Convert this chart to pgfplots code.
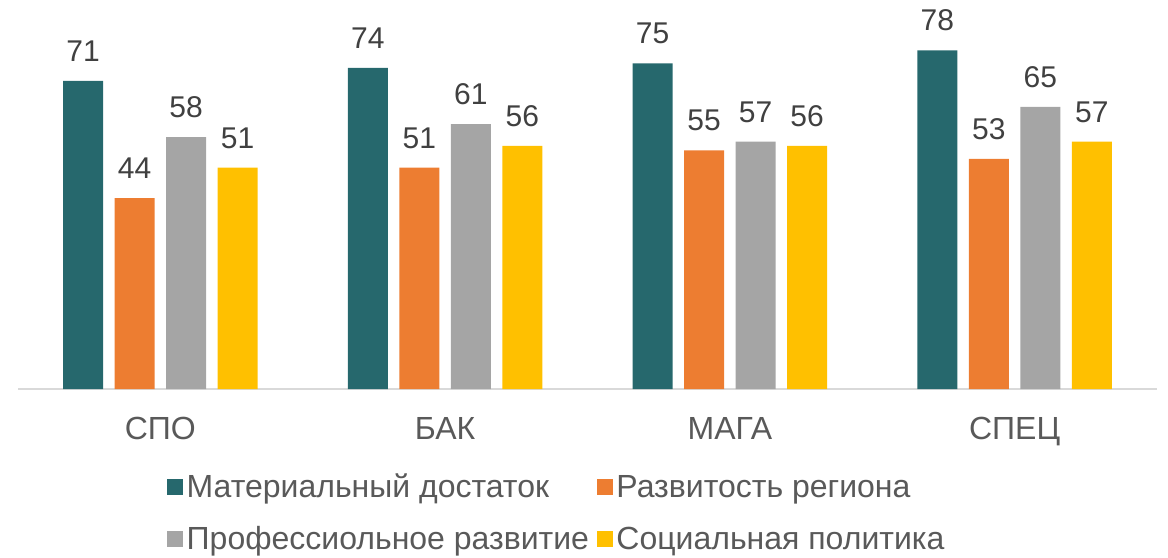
\documentclass[border=0pt]{standalone}
\usepackage{pgfplots}
\pgfplotsset{compat=1.18}
\usepackage{fontspec}
\setmainfont{Liberation Sans}
\definecolor{cA}{RGB}{38,104,109}
\definecolor{cB}{RGB}{237,125,49}
\definecolor{cC}{RGB}{165,165,165}
\definecolor{cD}{RGB}{255,192,0}
\definecolor{lineGray}{RGB}{217,217,217}
\definecolor{tickGray}{RGB}{89,89,89}
\definecolor{labGray}{RGB}{64,64,64}
\begin{document}
\begin{tikzpicture}
\begin{axis}[
  scale only axis, width=1139bp, height=382bp,
  ymin=0, ymax=88, xmin=-0.5, xmax=3.5,
  ybar=11.5bp, bar width=40bp,
  axis x line*=bottom, axis y line=none,
  x axis line style={draw=lineGray, line width=1.5bp, -},
  xtick={0,1,2,3}, xticklabels={СПО,БАК,МАГА,СПЕЦ},
  major tick length=0pt,
  xticklabel style={font=\fontsize{32bp}{38bp}\selectfont, text=tickGray, anchor=base, inner sep=0pt, yshift=-50bp},
  nodes near coords,
  nodes near coords style={font=\fontsize{30bp}{36bp}\selectfont, text=labGray, inner sep=0pt, anchor=south, yshift=19bp},
  /pgf/number format/assume math mode=true,
  legend columns=2,
  legend style={draw=none, fill=none, at={(0.1282,-0.2120)}, anchor=north west,
    font=\fontsize{32bp}{38bp}\selectfont, text=tickGray, row sep=23bp,
    /tikz/every even column/.append style={column sep=6bp},
    /tikz/every odd column/.append style={column sep=1.5bp}},
  legend cell align=left,
  legend image code/.code={\fill[#1] (0bp,-8bp) rectangle (16bp,8bp);},
]
\addplot[fill=cA, draw=none] coordinates {(0,71) (1,74) (2,75) (3,78)};
\addplot[fill=cB, draw=none] coordinates {(0,44) (1,51) (2,55) (3,53)};
\addplot[fill=cC, draw=none] coordinates {(0,58) (1,61) (2,57) (3,65)};
\addplot[fill=cD, draw=none] coordinates {(0,51) (1,56) (2,56) (3,57)};
\legend{Материальный достаток, Развитость региона, Профессиольное развитие, Социальная политика}
\end{axis}
\pgfresetboundingbox
\path ([xshift=-18bp,yshift=-169bp]current axis.south west) rectangle ++(1168bp,558bp);
\end{tikzpicture}
\end{document}
